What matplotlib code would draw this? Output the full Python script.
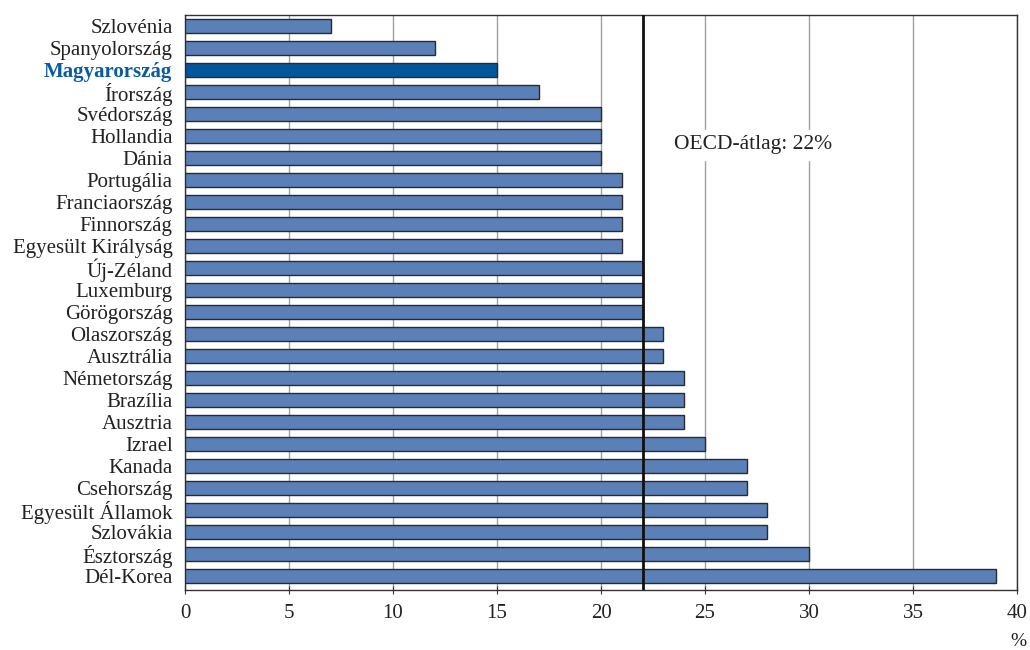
import matplotlib
matplotlib.use('Agg')
import matplotlib.pyplot as plt

plt.rcParams['font.family'] = ['Liberation Serif', 'DejaVu Serif']

countries = ['Szlovénia', 'Spanyolország', 'Magyarország', 'Írország', 'Svédország',
             'Hollandia', 'Dánia', 'Portugália', 'Franciaország', 'Finnország',
             'Egyesült Királyság', 'Új-Zéland', 'Luxemburg', 'Görögország',
             'Olaszország', 'Ausztrália', 'Németország', 'Brazília', 'Ausztria',
             'Izrael', 'Kanada', 'Csehország', 'Egyesült Államok', 'Szlovákia',
             'Észtország', 'Dél-Korea']
values = [7, 12, 15, 17, 20, 20, 20, 21, 21, 21, 21, 22, 22, 22, 23, 23, 24, 24, 24,
          25, 27, 27, 28, 28, 30, 39]
oecd_avg = 22
highlight = 'Magyarország'

fig = plt.figure(figsize=(10.3, 6.5), dpi=100)
ax = fig.add_axes([185 / 1030, 60 / 650, 832 / 1030, 575 / 650])

colors = ['#00569b' if c == highlight else '#5b80b8' for c in countries]
ypos = range(len(countries))
ax.barh(ypos, values, height=0.66, color=colors, edgecolor='#2b2b2b', linewidth=1.0, zorder=3)

# OECD average line
ax.axvline(oecd_avg, color='#111111', lw=2, zorder=4)
ax.text(23.5, 5.4, 'OECD-átlag: 22%', fontsize=15.5, va='center', ha='left',
        color='#222222', backgroundcolor='white', zorder=5)

ax.set_xlim(0, 40)
ax.set_ylim(25.64, -0.5)
ax.set_xticks(range(0, 41, 5))
ax.grid(axis='x', color='#a0a0a0', lw=1, zorder=0)
ax.set_axisbelow(True)

ax.set_yticks(list(ypos))
ax.set_yticklabels(countries, fontsize=15, color='#222222')
for lbl in ax.get_yticklabels():
    if lbl.get_text() == highlight:
        lbl.set_color('#0a5aa0')
        lbl.set_fontweight('bold')
ax.tick_params(axis='y', length=0, pad=9)
ax.tick_params(axis='x', direction='inout', length=6, labelsize=15, pad=7,
               color='#333333', labelcolor='#222222')

for sp in ax.spines.values():
    sp.set_color('#333333')
    sp.set_linewidth(1)

fig.text(1018 / 1030, 1 - 642 / 650, '%', fontsize=14, ha='center', va='center', color='#222222')

fig.savefig('out.png', dpi=100)
